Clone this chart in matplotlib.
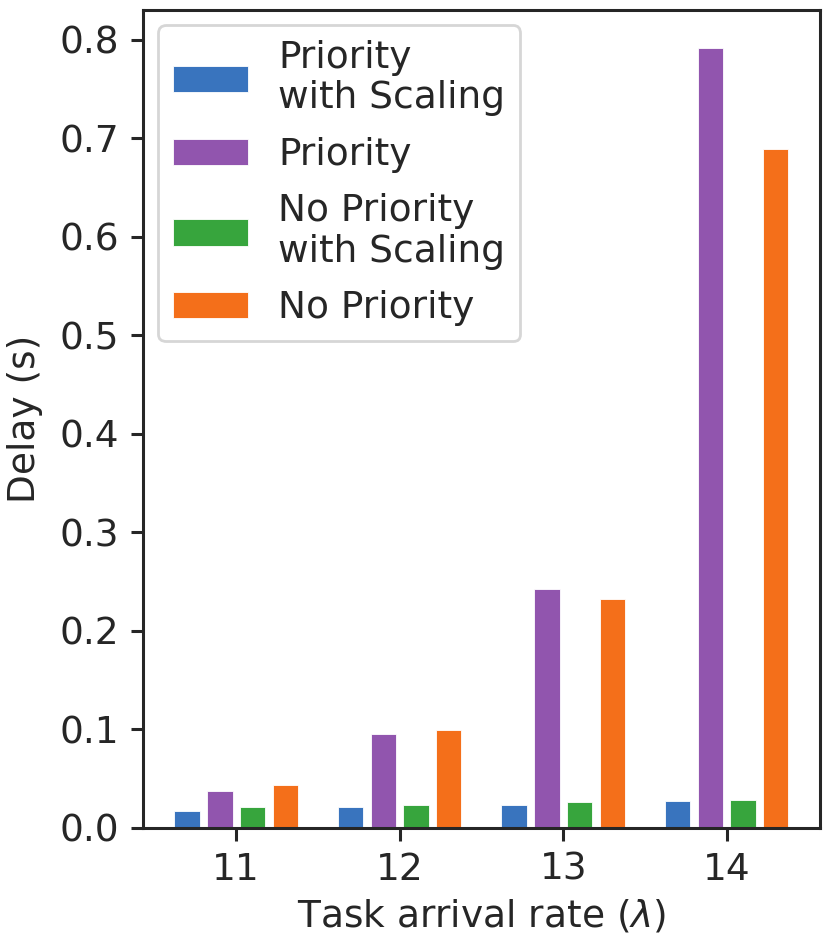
import matplotlib
matplotlib.use("Agg")
import matplotlib.pyplot as plt
import numpy as np

rates = [11, 12, 13, 14]
series_names = ["Priority\nwith Scaling", "Priority", "No Priority\nwith Scaling", "No Priority"]
prio_scaling = [0.017, 0.021, 0.0235, 0.027]
prio = [0.038, 0.095, 0.243, 0.791]
noprio_scaling = [0.021, 0.0235, 0.026, 0.028]
noprio = [0.044, 0.099, 0.232, 0.689]
colors = ["#3974BE", "#9155AE", "#37A53D", "#F46F1A"]

plt.rcParams['font.family'] = ['DejaVu Sans']
FS = 27
plt.rcParams['font.size'] = FS
ink = "#262626"

fig = plt.figure(figsize=(8.29, 9.44), dpi=100)
ax = fig.add_axes([0.1725, 0.1229, 0.8165, 0.8665])

x = np.array(rates, dtype=float)
width = 0.155
offsets = [-0.3, -0.1, 0.1, 0.3]
for vals, name, c, off in zip([prio_scaling, prio, noprio_scaling, noprio], series_names, colors, offsets):
    ax.bar(x + off, vals, width=width, color=c, label=name, edgecolor='white', linewidth=0.6)

ax.set_xticks(rates)
ax.set_xticklabels([str(r) for r in rates])
ax.set_yticks(np.arange(0, 0.81, 0.1))
ax.set_yticklabels([f"{v:.1f}" for v in np.arange(0, 0.81, 0.1)])
ax.set_ylim(0, 0.83)
ax.set_xlim(10.43, 14.57)

for s in ax.spines.values():
    s.set_linewidth(2.2)
    s.set_color(ink)
ax.tick_params(axis='both', length=9, width=2.2, colors=ink, labelsize=FS, labelcolor=ink, pad=8)

ax.set_xlabel("Task arrival rate ($\\lambda$)", fontsize=FS, color=ink, labelpad=7)
ax.set_ylabel("Delay (s)", fontsize=FS, color=ink, labelpad=12)

leg = ax.legend(loc='upper left', fontsize=FS, frameon=True, fancybox=True,
                borderaxespad=0.4, labelspacing=0.55)
leg.get_frame().set_edgecolor('#cccccc')
leg.get_frame().set_linewidth(2)
for t in leg.get_texts():
    t.set_color(ink)
    t.set_linespacing(1.15)

fig.savefig("out.png", dpi=100)
